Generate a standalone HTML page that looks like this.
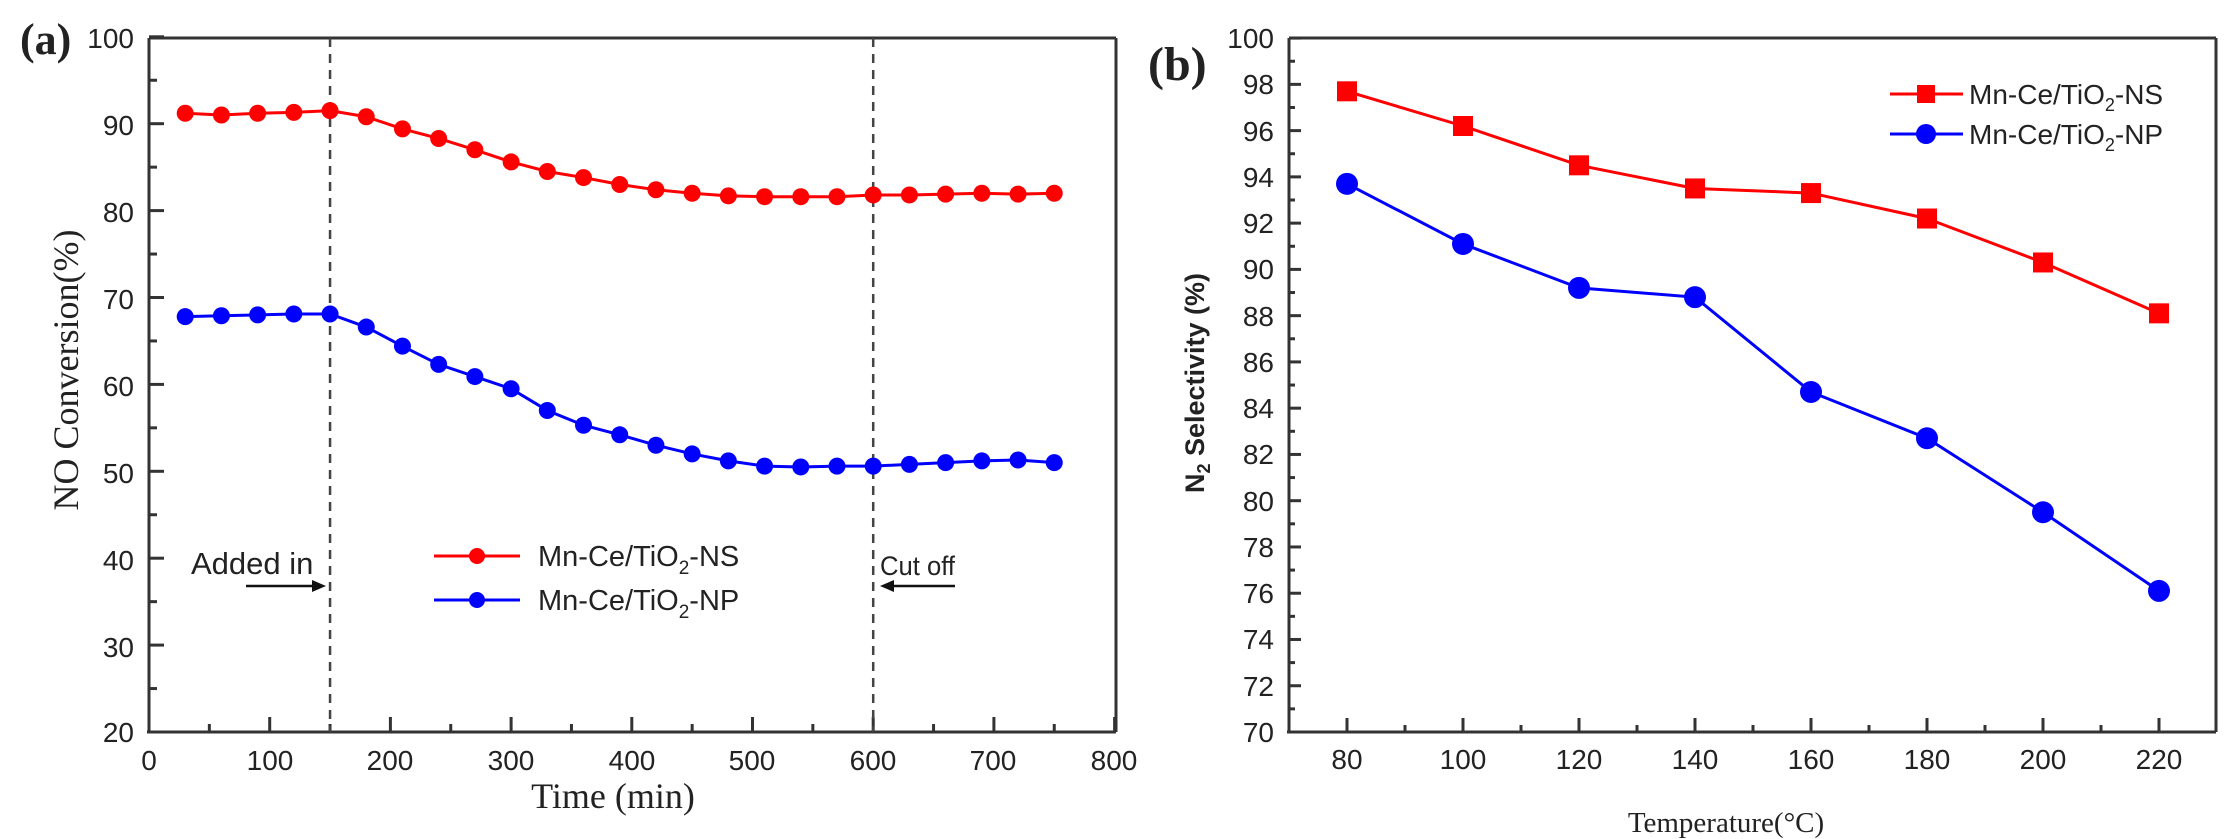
<!DOCTYPE html>
<html><head><meta charset="utf-8"><style>
html,body{margin:0;padding:0;background:#fff;}
svg{display:block;}
.s{font-family:"Liberation Sans",Arial,sans-serif;fill:#222;}
.t{font-family:"Liberation Serif","Times New Roman",serif;fill:#222;}
</style></head><body>
<svg id="c" width="2230" height="839" xmlns="http://www.w3.org/2000/svg">
<rect width="2230" height="839" fill="#fff"/>
<g id="g"></g>
<text class="t" x="20" y="54" font-size="44" font-weight="bold">(a)</text>
<g class="s" font-size="28" text-anchor="end">
<text x="134" y="48">100</text><text x="134" y="135">90</text><text x="134" y="222">80</text><text x="134" y="309">70</text><text x="134" y="396">60</text><text x="134" y="483">50</text><text x="134" y="570">40</text><text x="134" y="657">30</text><text x="134" y="742">20</text>
</g>
<g class="s" font-size="28" text-anchor="middle">
<text x="149" y="770">0</text><text x="270" y="770">100</text><text x="390" y="770">200</text><text x="511" y="770">300</text><text x="632" y="770">400</text><text x="752" y="770">500</text><text x="873" y="770">600</text><text x="993" y="770">700</text><text x="1114" y="770">800</text>
</g>
<text class="t" x="613" y="808" font-size="36" text-anchor="middle">Time (min)</text>
<text class="t" transform="translate(78,370) rotate(-90)" font-size="36" text-anchor="middle">NO Conversion(%)</text>
<text class="s" x="191" y="574" font-size="31">Added in</text>
<text class="s" x="880" y="575" font-size="27" textLength="75" lengthAdjust="spacingAndGlyphs">Cut off</text>
<text class="s" x="538" y="566" font-size="29">Mn-Ce/TiO<tspan font-size="19" dy="8">2</tspan><tspan dy="-8">-NS</tspan></text>
<text class="s" x="538" y="610" font-size="29">Mn-Ce/TiO<tspan font-size="19" dy="8">2</tspan><tspan dy="-8">-NP</tspan></text>
<text class="t" x="1148" y="80" font-size="48" font-weight="bold">(b)</text>
<g class="s" font-size="28" text-anchor="end">
<text x="1274" y="48">100</text><text x="1274" y="94">98</text><text x="1274" y="141">96</text><text x="1274" y="187">94</text><text x="1274" y="233">92</text><text x="1274" y="279">90</text><text x="1274" y="326">88</text><text x="1274" y="372">86</text><text x="1274" y="418">84</text><text x="1274" y="464">82</text><text x="1274" y="511">80</text><text x="1274" y="557">78</text><text x="1274" y="603">76</text><text x="1274" y="649">74</text><text x="1274" y="696">72</text><text x="1274" y="742">70</text>
</g>
<g class="s" font-size="28" text-anchor="middle">
<text x="1347" y="769">80</text><text x="1463" y="769">100</text><text x="1579" y="769">120</text><text x="1695" y="769">140</text><text x="1811" y="769">160</text><text x="1927" y="769">180</text><text x="2043" y="769">200</text><text x="2159" y="769">220</text>
</g>
<text class="t" x="1726" y="832" font-size="29" text-anchor="middle">Temperature(°C)</text>
<text class="s" transform="translate(1204,383) rotate(-90)" font-size="27" font-weight="bold" text-anchor="middle">N<tspan font-size="18" dy="6">2</tspan><tspan dy="-6"> Selectivity (%)</tspan></text>
<text class="s" x="1969" y="104" font-size="28">Mn-Ce/TiO<tspan font-size="18" dy="7">2</tspan><tspan dy="-7">-NS</tspan></text>
<text class="s" x="1969" y="144" font-size="28">Mn-Ce/TiO<tspan font-size="18" dy="7">2</tspan><tspan dy="-7">-NP</tspan></text>
</svg>
<script>
var g=document.getElementById("g"),h="";
function L(x1,y1,x2,y2,c,w,e){h+='<line x1="'+x1+'" y1="'+y1+'" x2="'+x2+'" y2="'+y2+'" stroke="'+c+'" stroke-width="'+w+'" '+(e||'')+'/>';}
var ax=function(t){return 149+t*1.207},ay=function(v){return 732-(v-20)*8.69};
L(149,38,1116,38,"#333",3);L(1116,38,1116,732,"#333",3);
for(var t=0;t<=800;t+=50){var x=ax(t);L(x,732,x,732-(t%100?8:15),"#333",3);}
for(var v=20;v<=100;v+=5){var y=ay(v);L(149,y,149+(v%10?8:15),y,"#333",3);}
L(149,38,149,733,"#333",3);L(147,732,1116,732,"#333",3);
L(ax(150),38,ax(150),732,"#444",2.5,'stroke-dasharray="9,7"');L(ax(600),38,ax(600),732,"#444",2.5,'stroke-dasharray="9,7"');
L(246,586,316,586,"#111",2.5);h+='<polygon points="326,586 312,580 312,592" fill="#111"/>';
L(955,586,890,586,"#111",2.5);h+='<polygon points="880,586 894,580 894,592" fill="#111"/>';
var ns=[91.2,91.0,91.2,91.3,91.5,90.8,89.4,88.3,87.0,85.6,84.5,83.8,83.0,82.4,82.0,81.7,81.6,81.6,81.6,81.8,81.8,81.9,82.0,81.9,82.0];
var np=[67.8,67.9,68.0,68.1,68.1,66.6,64.4,62.3,60.9,59.5,57.0,55.3,54.2,53.0,52.0,51.2,50.6,50.5,50.6,50.6,50.8,51.0,51.2,51.3,51.0];
function ser(d,fx,fy,c,sq,r){var p=d.map(function(v,i){return fx(i)+','+fy(v)}).join(' ');
h+='<polyline points="'+p+'" fill="none" stroke="'+c+'" stroke-width="3"/>';
d.forEach(function(v,i){var x=fx(i),y=fy(v);if(sq)h+='<rect x="'+(x-r)+'" y="'+(y-r)+'" width="'+2*r+'" height="'+2*r+'" fill="'+c+'"/>';else h+='<circle cx="'+x+'" cy="'+y+'" r="'+r+'" fill="'+c+'"/>';});}
ser(ns,function(i){return ax(30+30*i)},ay,"#f00",0,8.5);
ser(np,function(i){return ax(30+30*i)},ay,"#00f",0,8.5);
L(434,556,520,556,"#f00",3);h+='<circle cx="477" cy="556" r="8" fill="#f00"/>';
L(434,600,520,600,"#00f",3);h+='<circle cx="477" cy="600" r="8" fill="#00f"/>';
var bx=function(i){return 1347+116*i},by=function(v){return 732-(v-70)*23.13};
L(1289,38,2216,38,"#333",3);L(2216,38,2216,732,"#333",3);
for(var v=70;v<=100;v+=1){var y=by(v);L(1289,y,1289+(v%2?6:12),y,"#333",3);}
for(var k=0;k<8;k++){L(bx(k),732,bx(k),718,"#333",3);if(k<7)L(bx(k)+58,732,bx(k)+58,725,"#333",3);}
L(1289,38,1289,733,"#333",3);L(1287,732,2216,732,"#333",3);
ser([97.7,96.2,94.5,93.5,93.3,92.2,90.3,88.1],bx,by,"#f00",1,10);
ser([93.7,91.1,89.2,88.8,84.7,82.7,79.5,76.1],bx,by,"#00f",0,11);
L(1890,94,1963,94,"#f00",3);h+='<rect x="1917" y="85" width="18" height="18" fill="#f00"/>';
L(1890,134,1963,134,"#00f",3);h+='<circle cx="1926" cy="134" r="10" fill="#00f"/>';
g.innerHTML=h;
</script>
</body></html>
